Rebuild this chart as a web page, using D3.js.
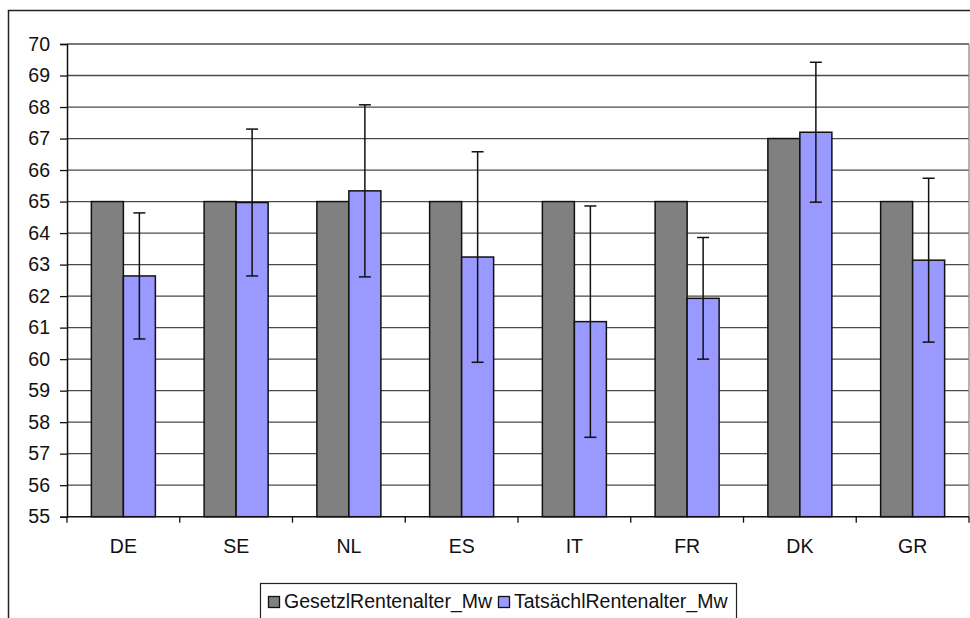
<!DOCTYPE html>
<html>
<head>
<meta charset="utf-8">
<script src="https://cdn.jsdelivr.net/npm/d3@7"></script>
<style>
  body { margin: 0; background: #fff; }
  svg { display: block; font-family: "Liberation Sans", Arial, sans-serif; }
</style>
</head>
<body>
<script>
const countries = ["DE", "SE", "NL", "ES", "IT", "FR", "DK", "GR"];
const gesetzl = [65, 65, 65, 65, 65, 65, 67, 65];
const tatsaechl = [62.64, 64.97, 65.34, 63.24, 61.19, 61.93, 67.2, 63.14];
const errTatsaechl = [2.0, 2.33, 2.73, 3.34, 3.67, 1.93, 2.22, 2.6];
const seriesNames = ["GesetzlRentenalter_Mw", "TatsächlRentenalter_Mw"];
const yTicks = d3.range(55, 71, 1);

const W = 970, H = 618;
const plot = { left: 67, top: 44, right: 969, bottom: 516.7 };
const fontSize = 19.5;

const svg = d3.select("body").append("svg")
  .attr("width", W)
  .attr("height", H);

// outer chart frame
svg.append("rect")
  .attr("x", 8.5).attr("y", 10.5)
  .attr("width", 980).attr("height", 700)
  .attr("fill", "#fff")
  .attr("stroke", "#222")
  .attr("stroke-width", 1.5);

const x = d3.scaleBand()
  .domain(countries)
  .range([plot.left, plot.right])
  .paddingInner(0)
  .paddingOuter(0);

const y = d3.scaleLinear()
  .domain([55, 70])
  .range([plot.bottom, plot.top]);

const groupW = x.bandwidth() * 64 / 112.75;
const barW = groupW / 2;

// gridlines
svg.append("g")
  .selectAll("line")
  .data(yTicks.filter(d => d > 55))
  .join("line")
  .attr("x1", plot.left).attr("x2", plot.right)
  .attr("y1", d => y(d)).attr("y2", d => y(d))
  .attr("stroke", "#4a4a4a")
  .attr("stroke-width", 1.3);

// plot area right border
svg.append("line")
  .attr("x1", plot.right).attr("x2", plot.right)
  .attr("y1", plot.top).attr("y2", plot.bottom)
  .attr("stroke", "#8a8a8a")
  .attr("stroke-width", 1.3);

const series = [
  { name: seriesNames[0], values: gesetzl, color: "#808080" },
  { name: seriesNames[1], values: tatsaechl, color: "#9999ff" }
];

series.forEach((s, si) => {
  svg.append("g")
    .selectAll("rect")
    .data(countries)
    .join("rect")
    .attr("x", (d) => x(d) + (x.bandwidth() - groupW) / 2 + si * barW)
    .attr("y", (d, i) => y(s.values[i]))
    .attr("width", barW)
    .attr("height", (d, i) => y(55) - y(s.values[i]))
    .attr("fill", s.color)
    .attr("stroke", "#111")
    .attr("stroke-width", 1.5);
});

// error bars on second series
const eb = svg.append("g")
  .attr("stroke", "#111")
  .attr("stroke-width", 1.5);
countries.forEach((c, i) => {
  const cx = x(c) + x.bandwidth() / 2 + barW / 2;
  const hi = y(tatsaechl[i] + errTatsaechl[i]);
  const lo = y(tatsaechl[i] - errTatsaechl[i]);
  eb.append("line").attr("x1", cx).attr("x2", cx).attr("y1", hi).attr("y2", lo);
  eb.append("line").attr("x1", cx - 6).attr("x2", cx + 6).attr("y1", hi).attr("y2", hi);
  eb.append("line").attr("x1", cx - 6).attr("x2", cx + 6).attr("y1", lo).attr("y2", lo);
});

// y axis
const yAxis = svg.append("g")
  .attr("transform", `translate(${plot.left},0)`)
  .call(d3.axisLeft(y).tickValues(yTicks).tickSize(7).tickPadding(10).tickFormat(d3.format("d")));
yAxis.select(".domain").attr("stroke", "#111").attr("stroke-width", 1.5);
yAxis.selectAll(".tick line").attr("stroke", "#111").attr("stroke-width", 1.3);
yAxis.selectAll(".tick text")
  .attr("font-size", fontSize)
  .attr("fill", "#111")
  .attr("font-family", "Liberation Sans, Arial, sans-serif");

// x axis
const xAxis = svg.append("g")
  .attr("transform", `translate(0,${plot.bottom})`)
  .call(d3.axisBottom(x).tickSize(0).tickPadding(22));
xAxis.select(".domain").remove();
svg.append("line")
  .attr("x1", plot.left).attr("x2", plot.right)
  .attr("y1", plot.bottom).attr("y2", plot.bottom)
  .attr("stroke", "#111").attr("stroke-width", 1.5);
xAxis.selectAll(".tick text")
  .attr("font-size", fontSize)
  .attr("fill", "#111")
  .attr("font-family", "Liberation Sans, Arial, sans-serif");
svg.append("g")
  .selectAll("line")
  .data(countries.map(c => x(c)).concat([plot.right]))
  .join("line")
  .attr("x1", d => d).attr("x2", d => d)
  .attr("y1", plot.bottom).attr("y2", plot.bottom + 6)
  .attr("stroke", "#111").attr("stroke-width", 1.3);

// legend
const legend = svg.append("g");
legend.append("rect")
  .attr("x", 260.5).attr("y", 583.5)
  .attr("width", 476).attr("height", 60)
  .attr("fill", "#fff")
  .attr("stroke", "#222")
  .attr("stroke-width", 1.2);
const legX = [268, 498];
series.forEach((s, si) => {
  legend.append("rect")
    .attr("x", legX[si] + 0.5).attr("y", 596.5)
    .attr("width", 11).attr("height", 11)
    .attr("fill", s.color)
    .attr("stroke", "#111")
    .attr("stroke-width", 1.3);
  legend.append("text")
    .attr("x", legX[si] + 16)
    .attr("y", 608)
    .attr("font-size", fontSize)
    .attr("fill", "#111")
    .text(s.name);
});
</script>
</body>
</html>
